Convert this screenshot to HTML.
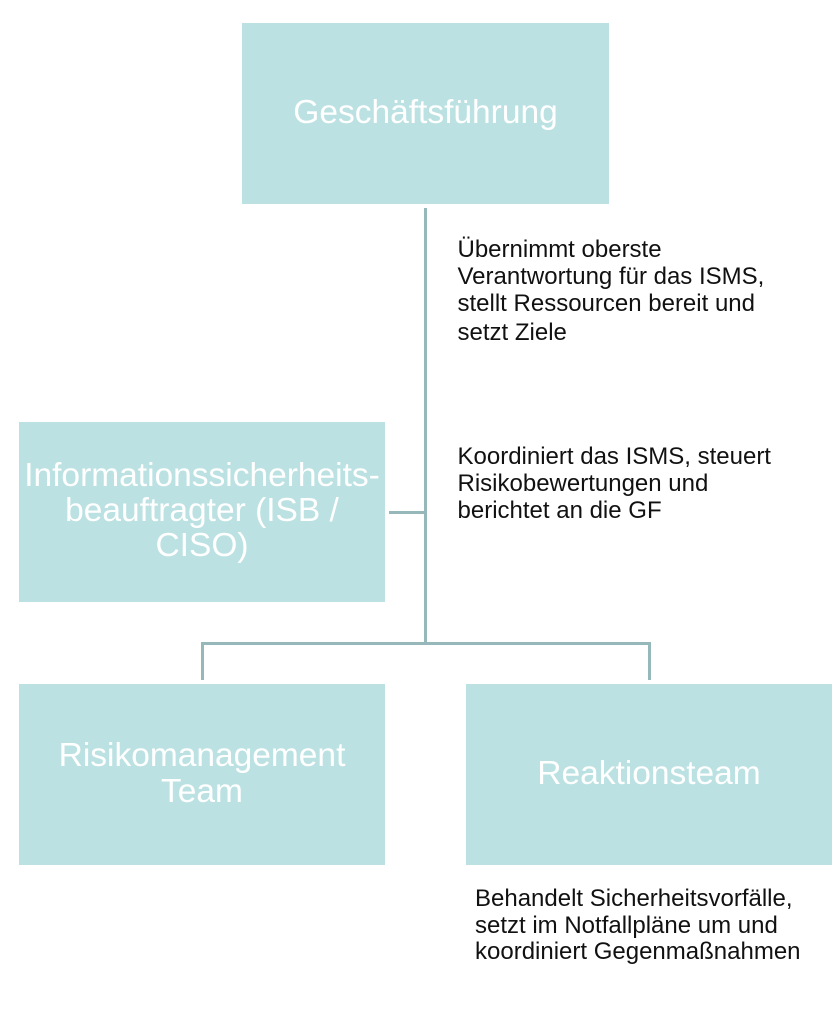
<!DOCTYPE html>
<html>
<head>
<meta charset="utf-8">
<style>
html,body{margin:0;padding:0;background:#fff;}
body{width:837px;height:1024px;position:relative;overflow:hidden;font-family:"Liberation Sans",Arial,sans-serif;}
.box{position:absolute;background:#bce1e2;}
.ln{position:absolute;background:#96b8ba;}
.t{position:absolute;color:#fff;font-size:33.5px;line-height:36px;white-space:nowrap;text-align:center;}
.d{position:absolute;color:#111;font-size:24px;line-height:27px;white-space:nowrap;left:457.5px;}
</style>
</head>
<body>
<!-- boxes -->
<div class="box" style="left:242px;top:23px;width:367px;height:181px;"></div>
<div class="box" style="left:19px;top:422px;width:366px;height:180px;"></div>
<div class="box" style="left:19px;top:684px;width:366px;height:181px;"></div>
<div class="box" style="left:466px;top:684px;width:366px;height:181px;"></div>

<!-- connectors -->
<div class="ln" style="left:424px;top:208px;width:3px;height:437px;"></div>
<div class="ln" style="left:389px;top:510.5px;width:37px;height:3px;"></div>
<div class="ln" style="left:201px;top:642px;width:450px;height:3px;"></div>
<div class="ln" style="left:201px;top:642px;width:3px;height:38px;"></div>
<div class="ln" style="left:648px;top:642px;width:3px;height:38px;"></div>

<!-- box titles -->
<div class="t" style="left:242px;width:367px;top:95px;">Geschäftsführung</div>
<div class="t" style="left:0px;width:404px;top:458px;">Informationssicherheits-</div>
<div class="t" style="left:19px;width:366px;top:493px;">beauftragter (ISB /</div>
<div class="t" style="left:19px;width:366px;top:528px;">CISO)</div>
<div class="t" style="left:19px;width:366px;top:738px;">Risikomanagement</div>
<div class="t" style="left:19px;width:366px;top:774px;">Team</div>
<div class="t" style="left:466px;width:366px;top:756px;">Reaktionsteam</div>

<!-- descriptions -->
<div class="d" style="top:236px;">Übernimmt oberste</div>
<div class="d" style="top:263px;">Verantwortung für das ISMS,</div>
<div class="d" style="top:290px;">stellt Ressourcen bereit und</div>
<div class="d" style="top:318.5px;">setzt Ziele</div>

<div class="d" style="top:443.3px;">Koordiniert das ISMS, steuert</div>
<div class="d" style="top:470px;">Risikobewertungen und</div>
<div class="d" style="top:496.7px;">berichtet an die GF</div>

<div class="d" style="left:475px;top:885px;">Behandelt Sicherheitsvorfälle,</div>
<div class="d" style="left:475px;top:911.7px;">setzt im Notfallpläne um und</div>
<div class="d" style="left:475px;top:938.3px;">koordiniert Gegenmaßnahmen</div>
</body>
</html>
